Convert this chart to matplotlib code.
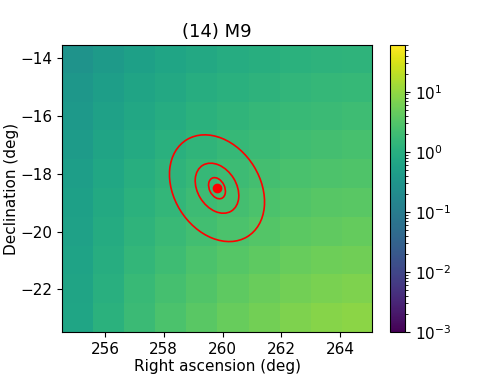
import matplotlib
matplotlib.use("Agg")
import matplotlib.pyplot as plt
import numpy as np
from matplotlib.colors import LogNorm
from matplotlib.patches import Ellipse

# map extent (deg): ra_min, ra_max, dec_min, dec_max
map_extent = [254.54, 265.08, -23.48, -13.54]

# 10x10 map values, rows from north (top) to south (bottom)
map_values = [
    [0.282, 0.394, 0.518, 0.640, 0.769, 0.895, 1.01, 1.12, 1.22, 1.29],
    [0.331, 0.468, 0.619, 0.771, 0.931, 1.09, 1.23, 1.38, 1.50, 1.58],
    [0.380, 0.545, 0.731, 0.918, 1.12, 1.32, 1.50, 1.68, 1.84, 1.95],
    [0.427, 0.624, 0.851, 1.08, 1.33, 1.58, 1.82, 2.06, 2.26, 2.40],
    [0.468, 0.702, 0.977, 1.26, 1.58, 1.90, 2.20, 2.50, 2.77, 2.95],
    [0.513, 0.789, 1.12, 1.48, 1.87, 2.27, 2.65, 3.05, 3.39, 3.63],
    [0.550, 0.871, 1.27, 1.70, 2.19, 2.70, 3.19, 3.70, 4.15, 4.47],
    [0.589, 0.968, 1.45, 1.99, 2.61, 3.27, 3.92, 4.59, 5.20, 5.62],
    [0.617, 1.05, 1.64, 2.30, 3.09, 3.94, 4.79, 5.69, 6.50, 7.08],
    [0.631, 1.13, 1.82, 2.64, 3.62, 4.72, 5.83, 7.03, 8.13, 8.91],
]
vmin, vmax = 1e-3, 60.0

# source position and error ellipses (width, height in deg, angle in deg)
src_ra, src_dec = 259.81, -18.50
ell_width = [0.77, 1.86, 3.94]
ell_height = [0.52, 1.32, 2.93]
ell_angle = [115.0, 121.0, 121.2]

plt.rcParams["font.size"] = 11

fig = plt.figure(figsize=(4.98, 3.74), dpi=100)
ax = fig.add_axes([0.1245, 0.1123, 0.6225, 0.7674])
cax = fig.add_axes([0.7831, 0.1123, 0.0301, 0.7674])

im = ax.imshow(np.array(map_values), extent=map_extent, origin="upper",
               aspect="auto", interpolation="nearest", cmap="viridis",
               norm=LogNorm(vmin=vmin, vmax=vmax))

for w, h, a in zip(ell_width, ell_height, ell_angle):
    ax.add_patch(Ellipse((src_ra, src_dec), w, h, angle=a, fill=False,
                         edgecolor="red", lw=1.2))
ax.plot([src_ra], [src_dec], "o", color="red", ms=6)

ax.set_xlim(map_extent[0], map_extent[1])
ax.set_ylim(map_extent[2], map_extent[3])
ax.set_xticks([256, 258, 260, 262, 264])
ax.set_yticks([-22, -20, -18, -16, -14])
ax.set_xlabel("Right ascension (deg)", labelpad=2)
ax.set_ylabel("Declination (deg)")
ax.yaxis.set_label_coords(-0.14, 0.5)
ax.set_title("(14) M9", fontsize=13)

fig.colorbar(im, cax=cax)

fig.savefig("out.png", dpi=100)
